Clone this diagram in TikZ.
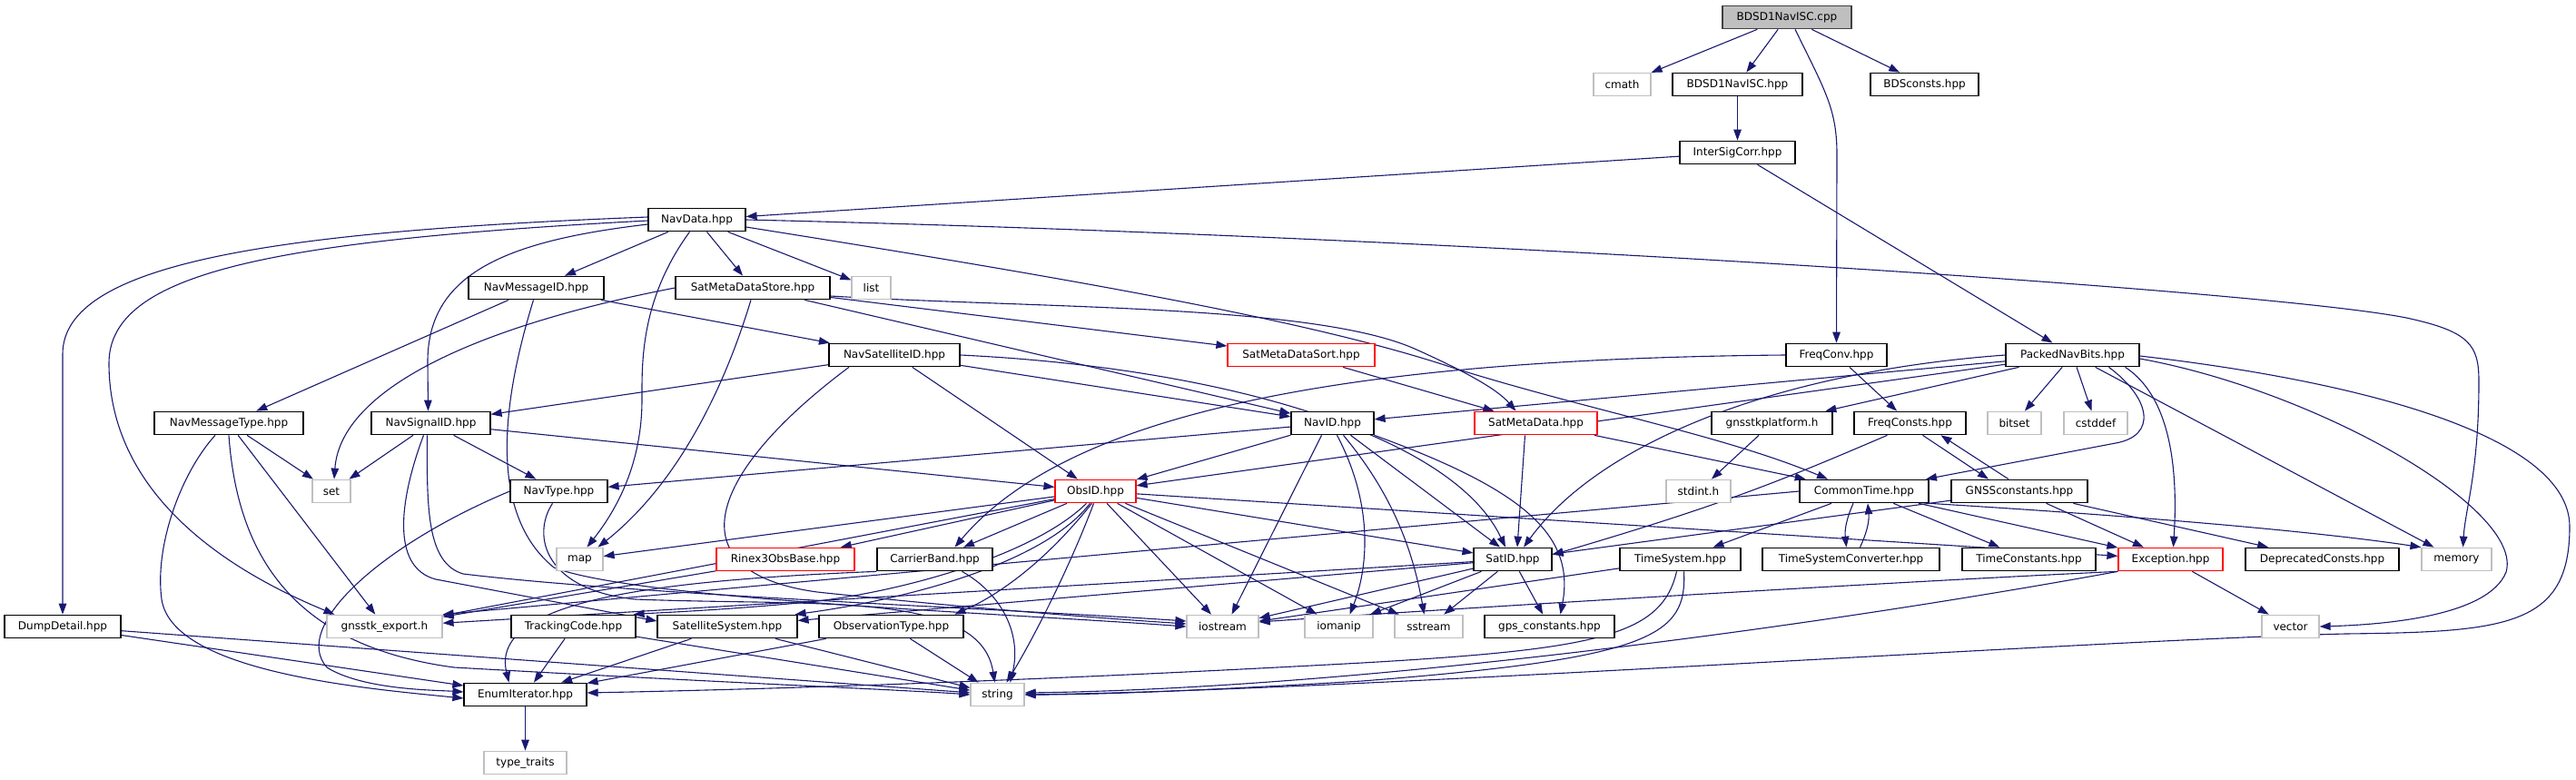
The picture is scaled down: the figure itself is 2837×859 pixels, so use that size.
\documentclass[tikz,border=0pt]{standalone}
\usepackage{fontspec}
\setmainfont{DejaVu Sans}
\usetikzlibrary{arrows.meta}
\pgfdeclarelayer{background}
\pgfsetlayers{background,main}
\definecolor{edgec}{RGB}{25,25,112}
\definecolor{grayb}{RGB}{191,191,191}
\definecolor{darkb}{RGB}{64,64,64}
\tikzset{
 box/.style={draw=black, line width=1.2pt, minimum height=25.5pt, inner sep=0pt, font=\fontsize{12}{14}\selectfont, text=black, fill=white},
 gbox/.style={box, draw=grayb},
 rbox/.style={box, draw=red},
 rootbox/.style={box, fill=grayb, draw=darkb},
 e/.style={draw=edgec, line width=1.1pt, -{Triangle[length=12pt,width=8.5pt]}},
}
\begin{document}
\begin{tikzpicture}[x=1pt,y=-1pt]
\useasboundingbox (0,0) rectangle (2837,859);
% row 0
\node[rootbox, minimum width=142pt] (cpp) at (1968,19) {BDSD1NavISC.cpp};
% row 1
\node[gbox, minimum width=63pt] (cmath) at (1786.5,93) {cmath};
\node[box, minimum width=143pt] (bdshpp) at (1913.5,93) {BDSD1NavISC.hpp};
\node[box, minimum width=119pt] (bdsconsts) at (2119.5,93) {BDSconsts.hpp};
% row 2
\node[box, minimum width=127pt] (intersig) at (1913.5,168) {InterSigCorr.hpp};
% row 3
\node[box, minimum width=107pt] (navdata) at (767.5,242) {NavData.hpp};
% row 4
\node[box, minimum width=149pt] (navmsgid) at (590.5,317) {NavMessageID.hpp};
\node[box, minimum width=170pt] (smdstore) at (829,317) {SatMetaDataStore.hpp};
\node[gbox, minimum width=43pt] (list) at (959.5,317) {list};
% row 5
\node[box, minimum width=144pt] (navsatid) at (985,391) {NavSatelliteID.hpp};
\node[rbox, minimum width=162pt] (smdsort) at (1433,391) {SatMetaDataSort.hpp};
\node[box, minimum width=111pt] (freqconv) at (2022.5,391) {FreqConv.hpp};
\node[box, minimum width=147pt] (packed) at (2282.5,391) {PackedNavBits.hpp};
% row 6
\node[box, minimum width=164pt] (navmsgtype) at (252,466) {NavMessageType.hpp};
\node[box, minimum width=131pt] (navsigid) at (474.5,466) {NavSignalID.hpp};
\node[box, minimum width=91pt] (navid) at (1467.5,466) {NavID.hpp};
\node[rbox, minimum width=135pt] (smd) at (1691.5,466) {SatMetaData.hpp};
\node[box, minimum width=133pt] (platform) at (1951.5,466) {gnsstkplatform.h};
\node[box, minimum width=123pt] (freqconsts) at (2103.5,466) {FreqConsts.hpp};
\node[gbox, minimum width=59pt] (bitset) at (2218.5,466) {bitset};
\node[gbox, minimum width=70pt] (cstddef) at (2308,466) {cstddef};
% row 7
\node[gbox, minimum width=42pt] (set) at (365,541) {set};
\node[box, minimum width=107pt] (navtype) at (615.5,541) {NavType.hpp};
\node[rbox, minimum width=89pt] (obsid) at (1206.5,541) {ObsID.hpp};
\node[gbox, minimum width=71pt] (stdint) at (1870.5,541) {stdint.h};
\node[box, minimum width=142pt] (commontime) at (2053,541) {CommonTime.hpp};
\node[box, minimum width=150pt] (gnssconst) at (2224,541) {GNSSconstants.hpp};
% row 8
\node[gbox, minimum width=51pt] (map) at (638.5,616) {map};
\node[rbox, minimum width=152pt] (rinex) at (865,616) {Rinex3ObsBase.hpp};
\node[box, minimum width=127pt] (carrier) at (1029.5,616) {CarrierBand.hpp};
\node[box, minimum width=86pt] (satid) at (1666,616) {SatID.hpp};
\node[box, minimum width=133pt] (timesys) at (1850.5,616) {TimeSystem.hpp};
\node[box, minimum width=195pt] (tsconv) at (2038.5,616) {TimeSystemConverter.hpp};
\node[box, minimum width=147pt] (timeconst) at (2234.5,616) {TimeConstants.hpp};
\node[rbox, minimum width=115pt] (exception) at (2390.5,616) {Exception.hpp};
\node[box, minimum width=169pt] (deprecated) at (2557.5,616) {DeprecatedConsts.hpp};
\node[gbox, minimum width=77pt] (memory) at (2705.5,616) {memory};
% row 9
\node[box, minimum width=128pt] (dumpdetail) at (69,690) {DumpDetail.hpp};
\node[gbox, minimum width=127pt] (gexport) at (423.5,690) {gnsstk\_export.h};
\node[box, minimum width=137pt] (tracking) at (631.5,690) {TrackingCode.hpp};
\node[box, minimum width=154pt] (satsys) at (801,690) {SatelliteSystem.hpp};
\node[box, minimum width=159pt] (obstype) at (981.5,690) {ObservationType.hpp};
\node[gbox, minimum width=79pt] (iostream) at (1346.5,690) {iostream};
\node[gbox, minimum width=75pt] (iomanip) at (1474.5,690) {iomanip};
\node[gbox, minimum width=75pt] (sstream) at (1573.5,690) {sstream};
\node[box, minimum width=143pt] (gpsconst) at (1706.5,690) {gps\_constants.hpp};
\node[gbox, minimum width=63pt] (vector) at (2522.5,690) {vector};
% row 10
\node[box, minimum width=135pt] (enumiter) at (578.5,765) {EnumIterator.hpp};
\node[gbox, minimum width=59pt] (string) at (1098.5,765) {string};
% row 11
\node[gbox, minimum width=91pt] (typetraits) at (578.5,840) {type\_traits};

\begin{pgfonlayer}{background}
% cpp
\draw[e] (cpp) -- (cmath);
\draw[e] (cpp) -- (bdshpp);
\draw[e] (cpp) -- (bdsconsts);
\draw[e] ([xshift=9]cpp.south) .. controls (2010,100) and (2023,120) .. (2023,170) -- (freqconv.north);
\draw[e] (bdshpp) -- (intersig);
\draw[e] (intersig) -- (navdata);
\draw[e] (intersig) -- (packed);
% navdata
\draw[e] (navdata) -- (navmsgid);
\draw[e] (navdata) -- (smdstore);
\draw[e] (navdata) -- (list);
\draw[e] ([yshift=-5]navdata.west) .. controls (560,265) and (470,300) .. (471,400) -- ([xshift=-3]navsigid.north);
\draw[e] ([xshift=-8]navdata.south) .. controls (705,330) and (707,400) .. (707,440) .. controls (707,510) and (680,560) .. ([xshift=8]map.north);
\draw[e] ([yshift=3]navdata.west) .. controls (300,255) and (69,290) .. (69,390) -- (dumpdetail.north);
\draw[e] ([yshift=-1]navdata.west) .. controls (300,265) and (120,300) .. (120,400) .. controls (120,560) and (280,640) .. ([xshift=-55]gexport.north);
\draw[e] ([yshift=-8]navdata.east) .. controls (1200,310) and (1450,355) .. (1600,405) .. controls (1750,452) and (1900,480) .. ([xshift=-40]commontime.north);
\draw[e] (navdata.east) .. controls (1600,260) and (2500,320) .. (2650,350) .. controls (2720,365) and (2730,380) .. (2730,420) .. controls (2730,520) and (2715,560) .. ([xshift=7]memory.north);
% navmsgid
\draw[e] (navmsgid) -- (navmsgtype);
\draw[e] (navmsgid) -- (navsatid);
\draw[e] ([xshift=-3]navmsgid.south) .. controls (560,420) and (530,560) .. (610,625) .. controls (700,660) and (1100,675) .. (iostream.west);
% smdstore
\draw[e] (smdstore.west) .. controls (520,360) and (375,430) .. ([xshift=3]set.north);
\draw[e] ([xshift=-2]smdstore.south) .. controls (800,420) and (750,530) .. ([xshift=20]map.north);
\draw[e] (smdstore) -- (smdsort);
\draw[e] ([yshift=-9]smdstore.east) .. controls (1150,340) and (1450,335) .. (1560,385) .. controls (1620,412) and (1650,430) .. ([xshift=-22]smd.north);
\draw[e] (smdstore) -- (navid);
% navsatid
\draw[e] (navsatid) -- (navsigid);
\draw[e] (navsatid) -- (obsid);
\draw[e] (navsatid) -- (navid);
\draw[e] (navsatid.east) .. controls (1350,405) and (1600,480) .. ([xshift=-8]satid.north);
\draw[e] ([xshift=-50]navsatid.south) .. controls (780,520) and (740,630) .. (900,652) .. controls (1050,668) and (1200,680) .. ([yshift=3]iostream.west);
\draw[e] (smdsort) -- (smd);
% freqconv
\draw[e] (freqconv.west) .. controls (1500,395) and (1180,450) .. ([xshift=22]carrier.north);
\draw[e] (freqconv) -- (freqconsts);
% packed
\draw[e] (packed) -- (navid);
\draw[e] (packed) -- (obsid);
\draw[e] (packed.west) .. controls (1950,410) and (1760,490) .. ([xshift=12]satid.north);
\draw[e] (packed) -- (platform);
\draw[e] (packed) -- (bitset);
\draw[e] (packed) -- (cstddef);
\draw[e] ([xshift=40]packed.south) .. controls (2370,440) and (2375,480) .. (2330,488) -- ([xshift=68]commontime.north);
\draw[e] ([xshift=58]packed.south) .. controls (2395,440) and (2398,530) .. ([xshift=3]exception.north);
\draw[e] (packed) -- (memory);
\draw[e] ([yshift=-4]packed.east) .. controls (2550,430) and (2780,560) .. (2760,630) .. controls (2740,680) and (2620,688) .. (vector.east);
\draw[e] ([yshift=-1]packed.east) .. controls (2600,420) and (2830,480) .. (2830,580) .. controls (2830,690) and (2760,696) .. (2583,698) .. controls (2300,705) and (1500,760) .. (string.east);
% navmsgtype
\draw[e] (navmsgtype) -- (set);
\draw[e] (navmsgtype) -- (gexport);
\draw[e] ([xshift=-15]navmsgtype.south) .. controls (200,520) and (170,600) .. (178,660) .. controls (190,740) and (400,758) .. ([yshift=-4]enumiter.west);
\draw[e] (navmsgtype.south) .. controls (262,620) and (330,712) .. (500,735) .. controls (800,752) and (1000,760) .. (string.west);
% navsigid
\draw[e] (navsigid) -- (set);
\draw[e] (navsigid) -- (navtype);
\draw[e] (navsigid) -- (obsid);
\draw[e] ([xshift=-8]navsigid.south) .. controls (440,550) and (430,625) .. (480,638) -- ([yshift=6]satsys.west);
\draw[e] ([xshift=-4]navsigid.south) .. controls (470,560) and (470,620) .. (510,632) .. controls (700,655) and (1100,670) .. ([yshift=6]iostream.west);
% navid
\draw[e] (navid) -- (navtype);
\draw[e] (navid) -- (obsid);
\draw[e] ([xshift=20]navid.south) -- ([xshift=-14]satid.north);
\draw[e] ([xshift=-12]navid.south) -- ([xshift=10]iostream.north);
\draw[e] ([xshift=5]navid.south) .. controls (1515,560) and (1505,630) .. ([xshift=12]iomanip.north);
\draw[e] ([xshift=12]navid.south) .. controls (1530,540) and (1555,600) .. ([xshift=-5]sstream.north);
\draw[e] (navid.south east) .. controls (1680,540) and (1735,590) .. ([xshift=12]gpsconst.north);
% smd
\draw[e] ([xshift=-12]smd.south) -- ([xshift=5]satid.north);
\draw[e] (smd) -- (commontime);
\draw[e] (platform) -- (stdint);
\draw[e] ([xshift=14]freqconsts.south) -- ([xshift=-34]gnssconst.north);
\draw[e] ([xshift=-12]gnssconst.north) -- ([xshift=34]freqconsts.south);
\draw[e] ([xshift=-25]freqconsts.south) .. controls (1960,530) and (1900,555) .. ([yshift=5]satid.east);
% navtype
\draw[e] (navtype.west) .. controls (420,600) and (320,690) .. (360,735) .. controls (400,760) and (480,760) .. ([yshift=3]enumiter.west);
\draw[e] ([xshift=-7]navtype.south) .. controls (585,590) and (600,650) .. (700,660) .. controls (900,668) and (1080,650) .. ([xshift=-3]string.north);
% obsid
\draw[e] (obsid) -- (map);
\draw[e] (obsid) -- (rinex);
\draw[e] (obsid) -- (carrier);
\draw[e] (obsid) -- (gexport);
\draw[e] ([xshift=-10]obsid.south) .. controls (1140,610) and (1000,650) .. (900,662) .. controls (800,672) and (720,675) .. ([xshift=-3]tracking.north east);
\draw[e] ([xshift=-6]obsid.south) .. controls (1150,620) and (1000,660) .. ([xshift=-3]satsys.north east);
\draw[e] ([xshift=-4]obsid.south) .. controls (1150,620) and (1100,655) .. ([xshift=70]obstype.north);
\draw[e] ([xshift=-2]obsid.south) .. controls (1180,620) and (1140,700) .. ([xshift=10]string.north);
\draw[e] (obsid) -- (iostream);
\draw[e] (obsid) -- (iomanip);
\draw[e] (obsid) -- (sstream);
\draw[e] (obsid) -- (satid);
\draw[e] (obsid) -- (exception);
% commontime
\draw[e] (commontime) -- (timesys);
\draw[e] ([xshift=-12]commontime.south) to[bend right=15] ([xshift=-5]tsconv.north);
\draw[e] ([xshift=10]tsconv.north) to[bend right=15] ([xshift=4]commontime.south);
\draw[e] (commontime) -- (timeconst);
\draw[e] (commontime) -- (exception);
\draw[e] (commontime.south east) .. controls (2350,568) and (2550,585) .. (memory.north west);
\draw[e] (commontime.west) -- (gexport.north east);
% gnssconst
\draw[e] (gnssconst) -- (satid);
\draw[e] (gnssconst) -- (exception);
\draw[e] (gnssconst) -- (deprecated);
\draw[e] (rinex) -- (gexport);
% carrier
\draw[e] ([xshift=30]carrier.south) .. controls (1105,655) and (1125,700) .. ([xshift=14]string.north);
\draw[e] (carrier.south west) .. controls (700,640) and (540,665) .. ([xshift=-18]enumiter.north);
% satid
\draw[e] (satid) -- (gexport);
\draw[e] (satid) -- (iostream);
\draw[e] (satid) -- (iomanip);
\draw[e] (satid) -- (sstream);
\draw[e] (satid) -- (gpsconst);
\draw[e] (satid) -- (satsys);
% timesys
\draw[e] (timesys) -- (iostream);
\draw[e] ([xshift=-4]timesys.south) .. controls (1830,700) and (1760,715) .. (1500,730) .. controls (1100,752) and (800,760) .. ([yshift=2]enumiter.east);
\draw[e] ([xshift=4]timesys.south) .. controls (1858,700) and (1820,725) .. (1500,750) .. controls (1300,762) and (1200,765) .. (string.east);
% exception
\draw[e] (exception.south west) .. controls (2100,640) and (1600,670) .. ([yshift=5]iostream.east);
\draw[e] (exception.south west) .. controls (2000,690) and (1500,758) .. ([yshift=2]string.east);
\draw[e] (exception) -- (vector);
% lower
\draw[e] (tracking) -- (enumiter);
\draw[e] (tracking) -- (string);
\draw[e] (satsys) -- (enumiter);
\draw[e] (satsys) -- (string);
\draw[e] (obstype) -- (enumiter);
\draw[e] (obstype) -- (string);
\draw[e] (enumiter) -- (typetraits);
\draw[e] (dumpdetail) -- (enumiter);
\draw[e] (dumpdetail) -- (string);
\end{pgfonlayer}
\end{tikzpicture}
\end{document}
